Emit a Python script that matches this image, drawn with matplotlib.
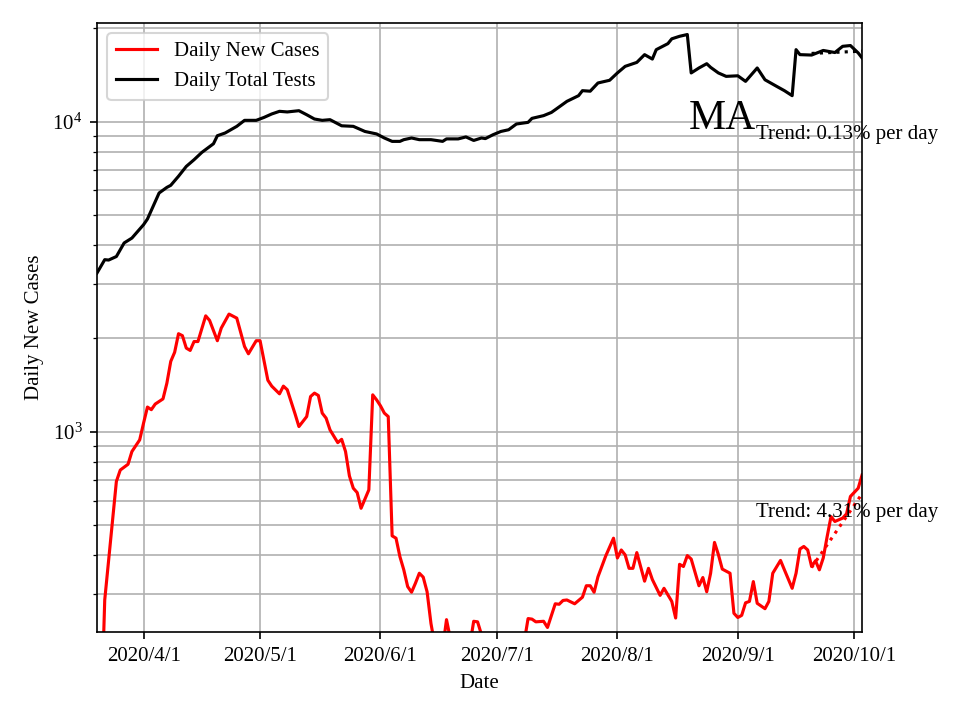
import numpy as np
import pandas as pd
import matplotlib
matplotlib.use("Agg")
import matplotlib.pyplot as plt
from matplotlib.ticker import FuncFormatter
import matplotlib.dates as mdates

plt.rcParams['font.family'] = ['Liberation Serif', 'DejaVu Serif']
plt.rcParams['mathtext.fontset'] = 'stix'

start_date = '2020-03-20'
last_day = 197

# day offsets from start_date and values
case_days = [1, 2, 3, 4, 5, 6, 8, 9, 11, 12, 13, 14, 15, 17, 18, 19, 20, 21, 22, 23,
             24, 25, 26, 28, 29, 31, 32, 34, 36, 38, 39, 41, 42, 44, 45, 47, 48, 49, 51, 52,
             54, 55, 56, 57, 58, 59, 60, 62, 63, 64, 65, 66, 67, 68, 70, 71, 72, 73, 74, 75,
             76, 77, 78, 79, 80, 81, 82, 83, 84, 85, 86, 87, 88, 89, 90, 91, 92, 94, 96, 97,
             98, 99, 101, 103, 105, 107, 109, 110, 111, 112, 113, 115, 116, 118, 119, 120, 121, 123, 125, 126,
             127, 128, 129, 131, 133, 134, 135, 136, 137, 138, 139, 141, 142, 143, 145, 146, 148, 149, 150, 151,
             152, 153, 155, 156, 157, 158, 159, 160, 161, 163, 164, 165, 166, 167, 168, 169, 170, 172, 173, 174,
             176, 177, 179, 180, 181, 182, 183, 184, 185, 186, 187, 188, 189, 190, 192, 193, 194, 196, 197]
case_vals = [110, 287, 385, 516, 692, 753, 786, 864, 942, 1067, 1202, 1179, 1229, 1277, 1435, 1687, 1805, 2072, 2042, 1862,
             1830, 1955, 1955, 2366, 2287, 1967, 2160, 2397, 2326, 1884, 1785, 1967, 1967, 1467, 1404, 1326, 1404, 1367, 1143, 1040,
             1120, 1300, 1333, 1310, 1149, 1107, 1015, 923, 946, 864, 721, 658, 637, 567, 650, 1316, 1268, 1213, 1149, 1120,
             462, 454, 396, 359, 317, 304, 325, 350, 340, 305, 241, 205, 195, 200, 248, 215, 195, 190, 205, 245,
             244, 222, 200, 195, 205, 200, 195, 210, 250, 249, 244, 245, 234, 279, 278, 286, 287, 279, 293, 319,
             319, 304, 341, 398, 454, 392, 416, 401, 363, 363, 408, 330, 363, 334, 297, 313, 284, 251, 374, 368,
             399, 389, 319, 339, 305, 350, 440, 402, 361, 350, 260, 252, 256, 281, 284, 329, 280, 269, 284, 350,
             385, 359, 313, 350, 419, 427, 416, 368, 384, 359, 392, 459, 533, 514, 527, 544, 619, 658, 726]

test_days = [0, 2, 3, 5, 7, 9, 12, 13, 16, 18, 19, 21, 23, 25, 27, 30, 31, 33, 36, 38,
             41, 43, 45, 47, 49, 52, 54, 56, 58, 60, 63, 66, 69, 72, 74, 76, 78, 79, 81, 83,
             86, 89, 90, 93, 95, 97, 99, 100, 102, 104, 106, 108, 111, 112, 115, 117, 118, 121, 124, 125,
             127, 129, 132, 134, 136, 139, 141, 143, 144, 147, 148, 150, 152, 153, 155, 157, 158, 160, 162, 165,
             167, 170, 172, 175, 177, 179, 180, 181, 184, 187, 190, 192, 194, 196, 197]
test_vals = [3250, 3590, 3580, 3675, 4065, 4215, 4655, 4855, 5890, 6140, 6235, 6670, 7175, 7540, 7960, 8490, 9010, 9195, 9660, 10100,
             10100, 10320, 10590, 10800, 10750, 10850, 10530, 10200, 10100, 10150, 9700, 9660, 9300, 9130, 8860, 8640, 8640, 8750, 8860, 8750,
             8750, 8640, 8800, 8800, 8930, 8700, 8860, 8820, 9080, 9300, 9420, 9830, 9950, 10250, 10460, 10710, 10930, 11630, 12130, 12590,
             12540, 13330, 13600, 14360, 15080, 15530, 16450, 15920, 17070, 17850, 18500, 18850, 19100, 14360, 14900, 15380, 14970, 14360, 14000, 14060,
             13490, 14900, 13650, 13000, 12590, 12130, 17070, 16450, 16400, 16970, 16710, 17500, 17600, 16660, 16050]

# trend lines (% per day) over the last two weeks
case_trend_rate = 4.31
case_trend_start = 365
test_trend_rate = 0.13
test_trend_start = 16600
trend_first_day = 184

t0 = pd.Timestamp(start_date)
case_dates = t0 + pd.to_timedelta(case_days, unit='D')
test_dates = t0 + pd.to_timedelta(test_days, unit='D')

trend_k = np.arange(0, last_day - trend_first_day + 1)
trend_dates = t0 + pd.to_timedelta(trend_first_day + trend_k, unit='D')
case_trend = case_trend_start * (1 + case_trend_rate / 100) ** trend_k
test_trend = test_trend_start * (1 + test_trend_rate / 100) ** trend_k

fig, ax = plt.subplots(figsize=(6.4, 4.8), dpi=150)
plt.subplots_adjust(left=0.101, right=0.898, top=0.968, bottom=0.122)

ax.plot(case_dates, case_vals, color='red', label='Daily New Cases')
ax.plot(test_dates, test_vals, color='black', label='Daily Total Tests')
ax.plot(trend_dates, case_trend, color='red', linestyle=':')
ax.plot(trend_dates, test_trend, color='black', linestyle=':')

ax.set_yscale('log')
ax.set_ylim(226, 20800)
ax.set_xlim(t0, t0 + pd.Timedelta(days=last_day))

ax.xaxis.set_major_locator(mdates.MonthLocator())
ax.xaxis.set_major_formatter(FuncFormatter(
    lambda x, pos: (lambda d: f"{d.year}/{d.month}/{d.day}")(mdates.num2date(x))))

ax.grid(True, which='major', axis='x')
ax.grid(True, which='both', axis='y')

text_date = t0 + pd.Timedelta(days=169.8)
ax.text(text_date, 9100, f'Trend: {test_trend_rate:.2f}% per day', va='center', ha='left', fontsize=10)
ax.text(text_date, 548, f'Trend: {case_trend_rate:.2f}% per day', va='center', ha='left', fontsize=10)
ax.text(t0 + pd.Timedelta(days=152.3), 9470, 'MA', fontsize=20, ha='left', va='baseline')

ax.set_xlabel('Date')
ax.set_ylabel('Daily New Cases')
ax.legend(loc='upper left')

fig.savefig('out.png')
